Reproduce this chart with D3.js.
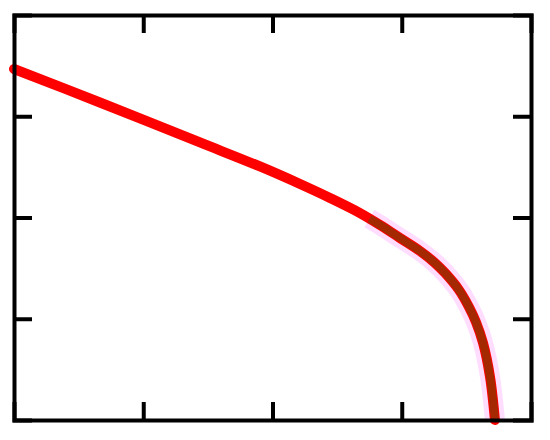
<!DOCTYPE html>
<html>
<head>
<meta charset="utf-8">
<script src="https://cdn.jsdelivr.net/npm/d3@7"></script>
<style>
  body { margin: 0; background: #fff; }
</style>
</head>
<body>
<div id="chart"></div>
<script>
// curve values (axes run 0..4, no labels)
const curveX = [0, 0.665, 1.439, 1.903, 2.213, 2.445, 2.677, 2.832, 2.986, 3.141, 3.257, 3.335, 3.443, 3.52, 3.574, 3.629, 3.683, 3.721];
const curveY = [3.467, 3.136, 2.741, 2.504, 2.331, 2.193, 2.044, 1.926, 1.798, 1.669, 1.551, 1.452, 1.284, 1.116, 0.968, 0.76, 0.425, 0];
// highlighted tail starts here
const highlightFrom = 2.75;
const tickValues = [1, 2, 3];

let width = 550,
  height = 440,
  margin = { left: 14, right: 19, top: 15, bottom: 20 };

let svg = d3
  .select("#chart")
  .append("svg")
  .attr("width", width)
  .attr("height", height);

let x = d3
  .scaleLinear()
  .domain([0, 4])
  .range([margin.left, width - margin.right]);

let y = d3
  .scaleLinear()
  .domain([0, 4])
  .range([height - margin.bottom, margin.top]);

let points = curveX.map((d, i) => ({ x: d, y: curveY[i] }));

// tail = part of the curve after highlightFrom, starting at the interpolated point
let k = curveX.findIndex(d => d > highlightFrom);
let t = (highlightFrom - curveX[k - 1]) / (curveX[k] - curveX[k - 1]);
let tail = [{ x: highlightFrom, y: curveY[k - 1] + (curveY[k] - curveY[k - 1]) * t }].concat(
  points.slice(k)
);

let line = d3
  .line()
  .x(d => x(d.x))
  .y(d => y(d.y))
  .curve(d3.curveCatmullRom.alpha(0.5));

// pink glow under the tail
svg
  .append("path")
  .datum(tail)
  .attr("d", line)
  .attr("fill", "none")
  .attr("stroke", "#ff66ff")
  .attr("stroke-opacity", 0.22)
  .attr("stroke-width", 20);

svg
  .append("path")
  .datum(points)
  .attr("d", line)
  .attr("fill", "none")
  .attr("stroke", "#ff0000")
  .attr("stroke-width", 10)
  .attr("stroke-linecap", "round");

// darker overlay on the tail
svg
  .append("path")
  .datum(tail)
  .attr("d", line)
  .attr("fill", "none")
  .attr("stroke", "#5a4a00")
  .attr("stroke-opacity", 0.55)
  .attr("stroke-width", 8);

// axes: inward ticks, no labels
let tickLen = 18;

svg
  .append("g")
  .attr("transform", `translate(0, ${y(0)})`)
  .call(d3.axisBottom(x).tickValues(tickValues).tickSize(-tickLen).tickFormat(""));

svg
  .append("g")
  .attr("transform", `translate(0, ${y(4)})`)
  .call(d3.axisTop(x).tickValues(tickValues).tickSize(-tickLen).tickFormat(""));

svg
  .append("g")
  .attr("transform", `translate(${x(0)}, 0)`)
  .call(d3.axisLeft(y).tickValues(tickValues).tickSize(-tickLen).tickFormat(""));

svg
  .append("g")
  .attr("transform", `translate(${x(4)}, 0)`)
  .call(d3.axisRight(y).tickValues(tickValues).tickSize(-tickLen).tickFormat(""));

svg.selectAll(".domain").attr("stroke", "#000").attr("stroke-width", 4);
svg.selectAll(".tick line").attr("stroke", "#000").attr("stroke-width", 4);
</script>
</body>
</html>
